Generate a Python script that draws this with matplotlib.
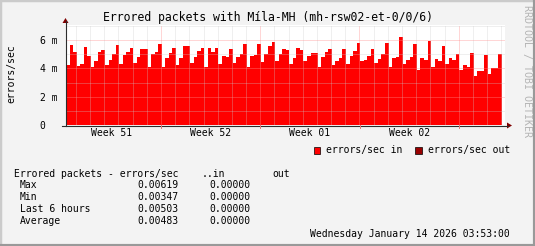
import numpy as np
import matplotlib
matplotlib.use('Agg')
import matplotlib.pyplot as plt
from matplotlib.lines import Line2D
from matplotlib.patches import Rectangle, Polygon

plt.rcParams['font.family'] = ['DejaVu Sans Mono', 'DejaVu Sans']

# errors/sec in, in milli units, one value per 6 hour step (oldest first)
errors_in = [4.23, 5.64, 5.15, 4.16, 4.30, 5.50, 4.87, 4.09, 4.52, 5.15, 5.29, 4.23, 4.59, 5.01, 5.64, 4.30,
             4.94, 5.15, 5.43, 4.37, 4.80, 5.36, 5.36, 4.09, 5.01, 5.15, 5.71, 4.09, 4.73, 5.08, 5.43,
             4.23, 4.73, 5.57, 5.57, 4.37, 4.80, 5.22, 5.43, 4.09, 5.43, 5.15, 5.43, 4.30, 4.87, 4.80, 5.36,
             4.37, 4.80, 5.01, 5.71, 4.09, 4.87, 4.94, 5.71, 4.45, 5.01, 5.57, 5.86, 4.52, 5.01, 5.36,
             5.29, 4.30, 4.73, 5.43, 5.29, 4.52, 4.87, 5.08, 5.08, 4.09, 4.80, 5.15, 5.36, 4.23, 4.52, 4.73,
             5.36, 4.30, 4.87, 5.22, 5.79, 4.52, 4.59, 4.87, 5.36, 4.37, 4.66, 5.01, 5.79, 4.09, 4.73,
             4.80, 6.19, 4.30, 4.59, 4.80, 5.71, 3.88, 4.73, 4.59, 5.93, 4.09, 4.66, 4.52, 5.57, 4.30, 4.73,
             4.59, 5.01, 3.88, 4.23, 4.09, 5.08, 3.47, 3.81, 3.81, 4.94, 3.60, 4.02, 4.02, 5.03]
errors_out = [0.0] * len(errors_in)

week_labels = ['Week 51', 'Week 52', 'Week 01', 'Week 02']
week_label_pos = [12.8, 40.8, 68.8, 96.8]   # in 6h steps
week_lines = [26.8, 54.8, 82.8, 110.8]
day_lines = [x for x in np.arange(2.8, 124, 4) if min(abs(x - w) for w in week_lines) > 0.1]

y_ticks = [0, 2, 4, 6]
y_ticklabels = ['0  ', '2 m', '4 m', '6 m']

stats_rows = ['Max', 'Min', 'Last 6 hours', 'Average']
stats_in = ['0.00619', '0.00347', '0.00503', '0.00483']
stats_out = ['0.00000', '0.00000', '0.00000', '0.00000']

W, H = 535, 246


def px(x, y):
    return x / W, 1 - y / H


fig = plt.figure(figsize=(W / 100, H / 100), dpi=100, facecolor='#f3f3f3')

# 3d border
fig.add_artist(Rectangle((0, 0), 1, 1, transform=fig.transFigure, fill=False, lw=0))
fig.add_artist(Line2D([0, 0, 1], [0, 1, 1], transform=fig.transFigure, color='#cbcbcb', lw=2.5))
fig.add_artist(Line2D([0, 1, 1], [0, 0, 1], transform=fig.transFigure, color='#999999', lw=3))

ax = fig.add_axes([66 / W, 1 - 125 / H, 439 / W, 100 / H])
ax.set_facecolor('white')
n = len(errors_in)
ax.stairs(errors_in, np.arange(n + 1), fill=True, color='#ff0000', baseline=0, zorder=2)
ax.set_xlim(0, 123.85)
ax.set_ylim(0, 7.06)

for x in day_lines:
    ax.axvline(x, color=(0.8, 0.8, 0.8, 0.6), lw=0.72, ls=(0, (1, 1)), zorder=3)
for x in week_lines:
    ax.axvline(x, color=(1, 0.55, 0.55, 0.7), lw=0.72, ls=(0, (1, 1)), zorder=3)
for y in [1, 3, 5, 7]:
    ax.axhline(y, color=(0.8, 0.8, 0.8, 0.6), lw=0.72, ls=(0, (1, 1)), zorder=3)
for y in [2, 4, 6]:
    ax.axhline(y, color=(1, 0.55, 0.55, 0.7), lw=0.72, ls=(0, (1, 1)), zorder=3)

for s in ax.spines.values():
    s.set_visible(False)
ax.set_yticks(y_ticks, y_ticklabels, fontsize=7)
ax.set_xticks(week_label_pos, week_labels, fontsize=7)
ax.tick_params(axis='y', length=0, pad=6)
ax.tick_params(axis='x', length=0, pad=2.5)

# axes with arrows
axis_col = '#2c2c2c'
fig.add_artist(Line2D(*zip(px(65.5, 126), px(65.5, 21)), transform=fig.transFigure, color=axis_col, lw=0.8))
fig.add_artist(Line2D(*zip(px(62, 125.5), px(508, 125.5)), transform=fig.transFigure, color=axis_col, lw=0.8))
fig.add_artist(Polygon([px(62.5, 23), px(68.5, 23), px(65.5, 18)], closed=True,
                       transform=fig.transFigure, color='#7f0000', lw=0))
fig.add_artist(Polygon([px(507, 122.5), px(507, 128.5), px(512, 125.5)], closed=True,
                       transform=fig.transFigure, color='#7f0000', lw=0))
for x in week_lines:
    xp = 66 + x * 436 / 123
    fig.add_artist(Line2D(*zip(px(xp, 125), px(xp, 128)), transform=fig.transFigure, color='#e08080', lw=0.72))

fig.text(*px(268, 18), 'Errored packets with Míla-MH (mh-rsw02-et-0/0/6)',
         ha='center', va='center', fontsize=8.3, color='black')
fig.text(*px(11.5, 74), 'errors/sec', rotation=90, ha='center', va='center', fontsize=7)
fig.text(*px(527, 71), 'RRDTOOL / TOBI OETIKER', rotation=-90, ha='center', va='center',
         fontsize=7.2, color='#b4b4b4')

# legend
fig.add_artist(Rectangle(px(313.5, 153.5), 6.5 / W, 6.5 / H, transform=fig.transFigure,
                         facecolor='#ff0000', edgecolor='black', lw=0.5))
fig.text(*px(326, 150.5), 'errors/sec in', ha='left', va='center', fontsize=7)
fig.add_artist(Rectangle(px(415, 153.5), 6.5 / W, 6.5 / H, transform=fig.transFigure,
                         facecolor='#990000', edgecolor='black', lw=0.5))
fig.text(*px(428, 150.5), 'errors/sec out', ha='left', va='center', fontsize=7)

# statistics table
fig.text(*px(14, 173.7), 'Errored packets - errors/sec', ha='left', va='center', fontsize=7)
fig.text(*px(201.5, 173.7), '..in', ha='left', va='center', fontsize=7)
fig.text(*px(272, 173.7), 'out', ha='left', va='center', fontsize=7)
for i, name in enumerate(stats_rows):
    y = 185.5 + 12 * i
    fig.text(*px(20, y), name, ha='left', va='center', fontsize=7)
    fig.text(*px(178.5, y), stats_in[i], ha='right', va='center', fontsize=7)
    fig.text(*px(250.5, y), stats_out[i], ha='right', va='center', fontsize=7)

fig.text(*px(509.5, 233.7), 'Wednesday January 14 2026 03:53:00', ha='right', va='center', fontsize=7)

fig.savefig('out.png', dpi=100, facecolor=fig.get_facecolor())
